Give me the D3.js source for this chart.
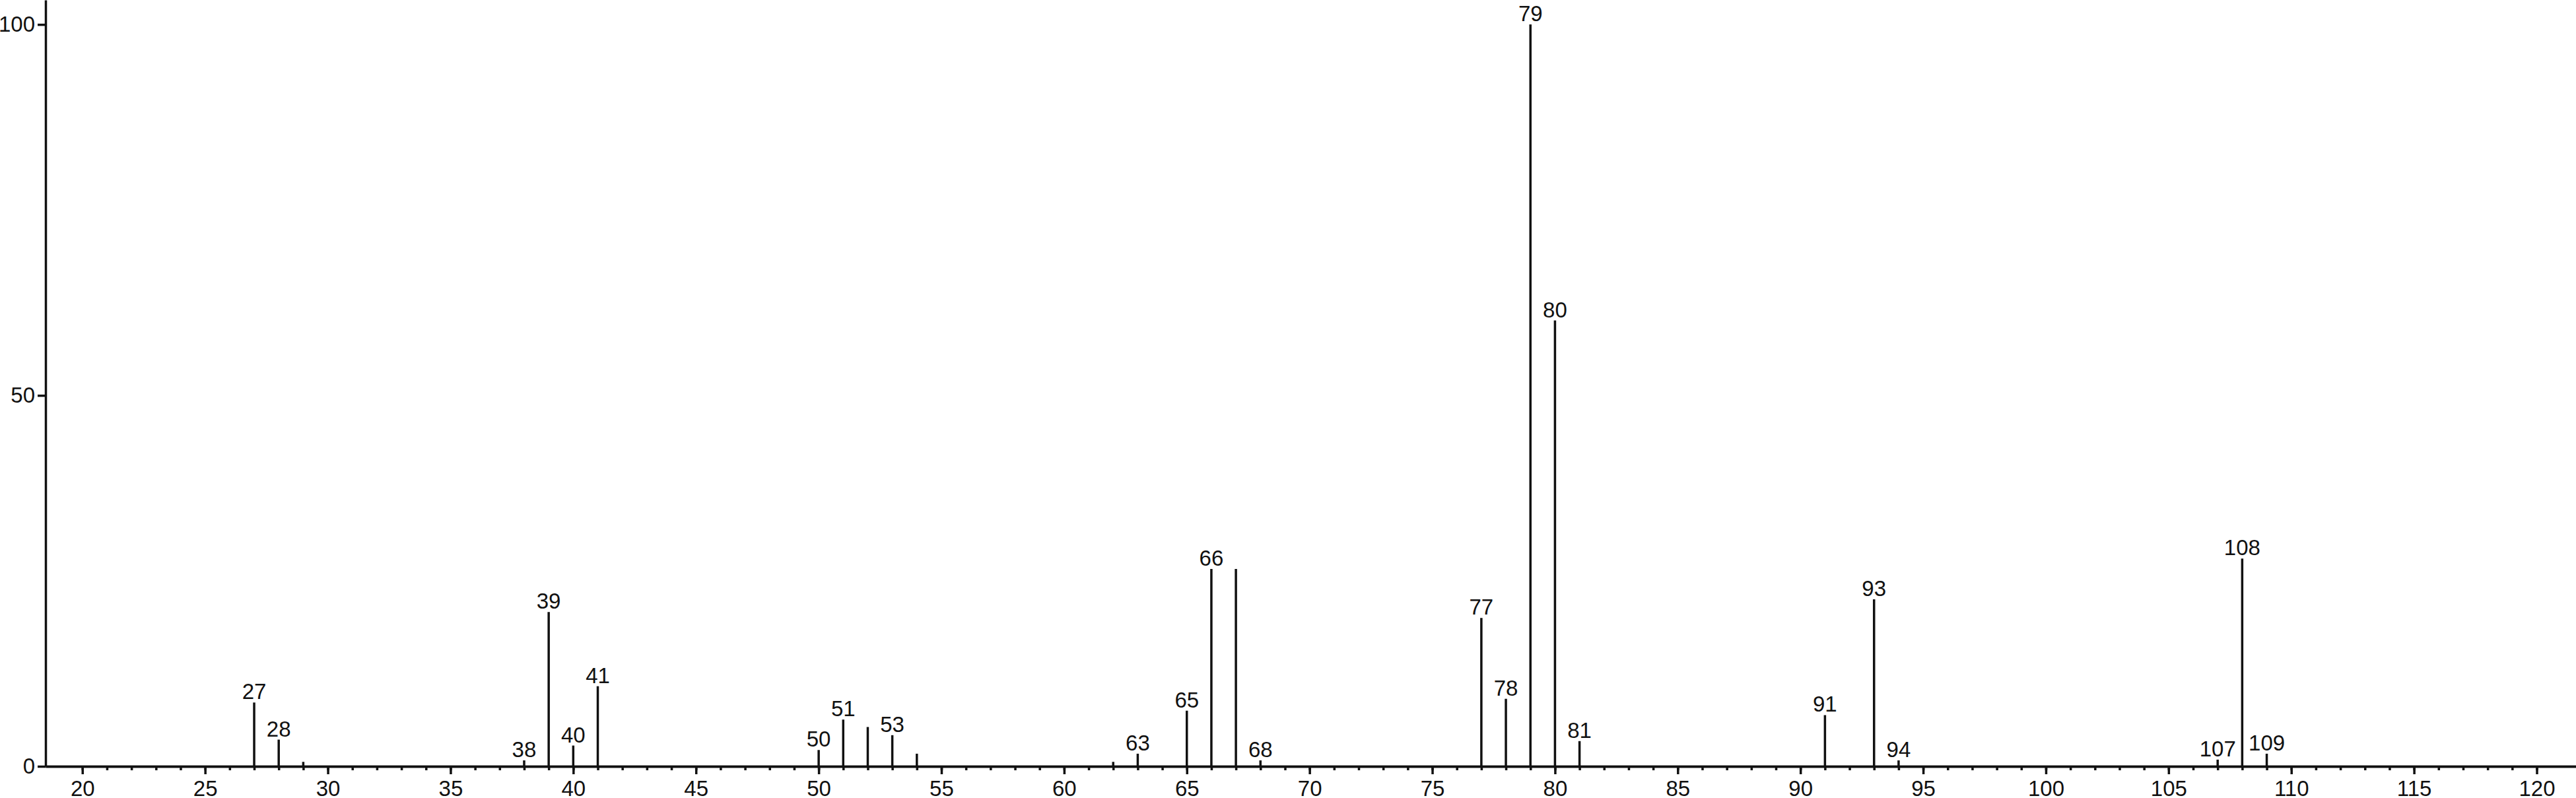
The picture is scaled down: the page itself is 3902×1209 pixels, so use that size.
<!DOCTYPE html>
<html>
<head>
<meta charset="utf-8">
<script src="https://cdn.jsdelivr.net/npm/d3@7"></script>
<style>
  body { margin: 0; background: #fff; }
  .axis path, .axis line { stroke: #111; stroke-width: 3.5; }
  .axis text { font-family: "Liberation Sans", Arial, sans-serif; font-size: 33px; fill: #111; }
  .peaklabel { font-family: "Liberation Sans", Arial, sans-serif; font-size: 33px; fill: #111; }
</style>
</head>
<body>
<div id="chart"></div>
<script>
// m/z values and relative intensity (%)
var masses = [27, 28, 29, 38, 39, 40, 41, 50, 51, 52, 53, 54, 62, 63, 65, 66, 67, 68, 77, 78, 79, 80, 81, 91, 93, 94, 107, 108, 109];
var intensities = [8.6, 3.6, 0.6, 0.8, 20.8, 2.8, 10.8, 2.2, 6.3, 5.3, 4.2, 1.7, 0.6, 1.7, 7.5, 26.6, 26.6, 0.8, 20.0, 9.1, 100, 60.1, 3.4, 6.9, 22.5, 0.8, 0.9, 28.0, 1.7];
// peaks that carry a mass label
var labelled = [27, 28, 38, 39, 40, 41, 50, 51, 53, 63, 65, 66, 68, 77, 78, 79, 80, 81, 91, 93, 94, 107, 108, 109];

var xMajorTicks = [20, 25, 30, 35, 40, 45, 50, 55, 60, 65, 70, 75, 80, 85, 90, 95, 100, 105, 110, 115, 120];
var xMinorTicks = d3.range(20, 121, 1);
var yTicks = [0, 50, 100];

var width = 3902;
var height = 1209;
var left = 69;
var baseY = 1161;

var peaks = masses.map(function(m, i) { return {mz: m, value: intensities[i]}; });

var svg = d3.select("#chart")
    .append("svg")
    .attr("width", width)
    .attr("height", height);

var x = d3.scaleLinear()
    .domain([18.5, 121.6])
    .range([left, width]);

// top of the y axis runs off the picture, 100 sits a little below the top
var y = d3.scaleLinear()
    .domain([0, 103.3])
    .range([baseY, 0]);

// minor ticks every 1 unit
svg.append("g")
    .attr("class", "axis")
    .attr("transform", "translate(0," + baseY + ")")
    .call(d3.axisBottom(x).tickValues(xMinorTicks).tickSize(6).tickSizeOuter(0).tickFormat(""));

// major ticks every 5 units with labels
svg.append("g")
    .attr("class", "axis")
    .attr("transform", "translate(0," + baseY + ")")
    .call(d3.axisBottom(x).tickValues(xMajorTicks).tickSize(12).tickPadding(10).tickSizeOuter(0));

svg.append("g")
    .attr("class", "axis")
    .attr("transform", "translate(" + left + ",0)")
    .call(d3.axisLeft(y).tickValues(yTicks).tickSize(12).tickPadding(4).tickSizeOuter(0));

svg.selectAll(".axis .domain").attr("fill", "none");

// peaks
svg.append("g").selectAll("line")
    .data(peaks)
    .enter().append("line")
    .attr("x1", function(d) { return x(d.mz); })
    .attr("x2", function(d) { return x(d.mz); })
    .attr("y1", y(0))
    .attr("y2", function(d) { return y(d.value); })
    .attr("stroke", "#111")
    .attr("stroke-width", 3.5);

svg.append("g").selectAll("text")
    .data(peaks.filter(function(d) { return labelled.indexOf(d.mz) >= 0; }))
    .enter().append("text")
    .attr("class", "peaklabel")
    .attr("text-anchor", "middle")
    .attr("x", function(d) { return x(d.mz); })
    .attr("y", function(d) { return y(d.value) - 5; })
    .text(function(d) { return d.mz; });
</script>
</body>
</html>
